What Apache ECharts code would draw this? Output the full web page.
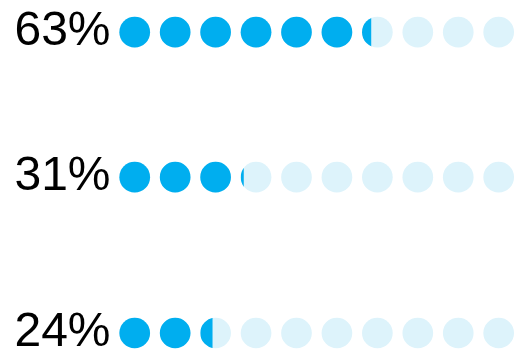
<!DOCTYPE html>
<html><head><meta charset="utf-8">
<script src="https://cdn.jsdelivr.net/npm/echarts@6/dist/echarts.min.js"></script>
<style>html,body{margin:0;padding:0;background:#fff}#c{width:530px;height:357px}</style>
</head><body><div id="c"></div>
<script>
const labels = ['63%', '31%', '24%'];
const values = [6.3, 3.1, 2.4];
const dotCount = 10;

const FILL = '#00aeef', EMPTY = '#ddf3fb';
const rowCenters = [32.2, 177.2, 336.2];
const labelShift = [3, 2.5, 9];
const R = 15.35;

const chart = echarts.init(document.getElementById('c'), null, {renderer: 'canvas'});
const grids = [], xAxes = [], yAxes = [], series = [];
labels.forEach((lab, k) => {
  grids.push({left: 114.5, width: 404.4, top: rowCenters[k] - 20, height: 40});
  xAxes.push({gridIndex: k, type: 'value', min: 0, max: dotCount, show: false});
  yAxes.push({
    gridIndex: k, type: 'category', data: [lab],
    axisLine: {show: false}, axisTick: {show: false}, splitLine: {show: false},
    axisLabel: {fontSize: 48, fontFamily: 'Liberation Sans, Arial, sans-serif', color: '#000',
      margin: 4, padding: [0, 0, labelShift[k] * 2, 0]}
  });
  series.push({
    type: 'custom', xAxisIndex: k, yAxisIndex: k, silent: true,
    data: [[values[k], 0]],
    renderItem: (params, api) => {
      const v = api.value(0);
      const y = api.coord([0, 0])[1];
      const children = [];
      for (let i = 0; i < dotCount; i++) {
        const cx = api.coord([i + 0.5, 0])[0];
        children.push({type: 'circle', shape: {cx: cx, cy: y, r: R}, style: {fill: EMPTY}});
        const frac = Math.max(0, Math.min(1, v - i));
        if (frac >= 1) {
          children.push({type: 'circle', shape: {cx: cx, cy: y, r: R}, style: {fill: FILL}});
        } else if (frac > 0) {
          children.push({type: 'circle', shape: {cx: cx, cy: y, r: R}, style: {fill: FILL},
            clipPath: {type: 'rect', shape: {x: cx - R, y: y - R, width: 2 * R * frac, height: 2 * R}}});
        }
      }
      return {type: 'group', children: children};
    }
  });
});
chart.setOption({animation: false, grid: grids, xAxis: xAxes, yAxis: yAxes, series: series});
</script></body></html>
